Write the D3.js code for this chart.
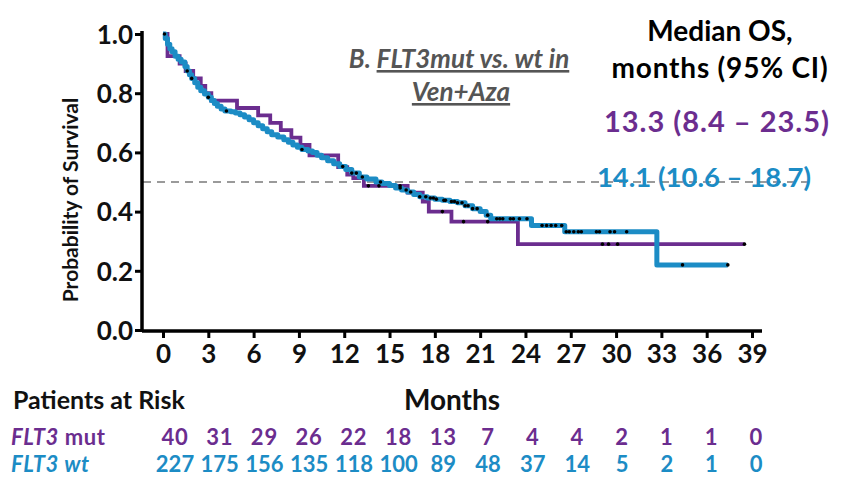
<!DOCTYPE html>
<html><head><meta charset="utf-8">
<script src="https://cdn.jsdelivr.net/npm/d3@7"></script>
<style>
html,body{margin:0;padding:0;background:#fff;}
svg{display:block;font-family:Lato,"Open Sans",sans-serif;}
</style></head>
<body>
<svg id="c" width="853" height="491"></svg>
<script>
// ---- data ----
const xTicks = [0,3,6,9,12,15,18,21,24,27,30,33,36,39];
const yTicks = [0,0.2,0.4,0.6,0.8,1.0];
const riskMonths = [0,3,6,9,12,15,18,21,24,27,30,33,36,39];
const riskMut = [40,31,29,26,22,18,13,7,4,4,2,1,1,0];
const riskWt = [227,175,156,135,118,100,89,48,37,14,5,2,1,0];

// FLT3 mut (purple) KM steps: time (months), survival
const mutTime = [0,0.3,1.1,1.5,2.0,2.5,2.8,3.2,4.9,6.3,7.1,7.8,8.5,9.1,9.7,11.6,12.2,12.6,13.3,16.2,17.2,17.6,19.1,23.5,38.5];
const mutSurv = [1,0.925,0.9,0.875,0.85,0.825,0.8,0.775,0.75,0.725,0.70,0.675,0.65,0.625,0.59,0.55,0.525,0.513,0.487,0.464,0.434,0.40,0.366,0.29,0.29];
const mutCensor = [13.6,14.3,15.7,18.5,19.9,21.5,29.1,29.5,30.1,38.5];

// FLT3 wt (blue) KM steps
const wtTime = [0,0.15,0.3,0.45,0.6,0.8,1.0,1.2,1.45,1.6,1.75,1.9,2.1,2.3,2.5,2.75,3.0,3.2,3.4,3.6,3.85,4.1,4.5,4.8,5.1,5.4,5.7,6.0,6.3,6.6,6.9,7.2,7.6,8.0,8.3,8.6,8.9,9.2,9.6,9.9,10.2,10.5,10.9,11.3,11.7,12.1,12.5,13.0,13.5,14.1,14.5,15.0,15.4,15.8,16.2,16.6,17.0,17.5,18.0,18.5,19.0,19.5,20.0,20.5,21.0,21.4,21.7,24.4,26.6,32.7,37.4];
const wtSurv = [1,0.985,0.965,0.95,0.94,0.925,0.915,0.905,0.89,0.875,0.862,0.85,0.835,0.82,0.808,0.797,0.786,0.775,0.765,0.756,0.747,0.74,0.737,0.733,0.727,0.72,0.71,0.70,0.69,0.68,0.67,0.66,0.652,0.643,0.634,0.625,0.617,0.61,0.605,0.60,0.59,0.582,0.572,0.562,0.552,0.542,0.53,0.517,0.51,0.5,0.495,0.488,0.48,0.473,0.466,0.458,0.45,0.446,0.442,0.438,0.434,0.43,0.42,0.41,0.40,0.388,0.376,0.353,0.332,0.22,0.22];
const wtCensor = [0.1,1.6,1.9,3.0,4.2,9.2,11.9,12.5,12.8,13.2,14.4,15.7,16.1,16.4,17.0,17.4,17.7,17.9,18.1,18.6,18.7,19.1,19.3,19.5,19.8,20.0,20.2,20.5,20.8,21.5,22.1,22.3,22.5,23.0,23.2,23.6,24.1,25.1,25.4,25.7,26.0,26.4,26.7,26.9,27.2,27.5,27.7,28.7,28.9,29.6,29.9,30.7,34.4,37.4];

const purple = "#6b2d8f", blue = "#1c8cc5";

// ---- scales ----
const svg = d3.select("#c");
const x = d3.scaleLinear().domain([0,39]).range([163,752]);
const y = d3.scaleLinear().domain([0,1]).range([330,34]);

// dashed median line
svg.append("line").attr("x1",143).attr("x2",808).attr("y1",y(0.5)).attr("y2",y(0.5))
  .attr("stroke","#9a9a9a").attr("stroke-width",1.8).attr("stroke-dasharray","8,6");

// axes
const yAxis = svg.append("g").attr("transform","translate(142,0)")
  .call(d3.axisLeft(y).tickValues(yTicks).tickFormat(d3.format(".1f")).tickSize(7).tickSizeOuter(0));
const xAxis = svg.append("g").attr("transform","translate(0,331)")
  .call(d3.axisBottom(x).tickValues(xTicks).tickSize(7).tickSizeOuter(0));
[yAxis,xAxis].forEach(g=>{
  g.select(".domain").attr("stroke","#000").attr("stroke-width",3.5);
  g.selectAll(".tick line").attr("stroke","#000").attr("stroke-width",3);
  g.selectAll("text").attr("fill","#111").attr("font-family","Lato, sans-serif")
    .attr("font-weight","bold").attr("font-size",26);
});
yAxis.select(".domain").attr("d","M0,330V31");
xAxis.select(".domain").attr("d","M142,0H762");
yAxis.selectAll(".tick text").attr("x",-9).attr("dy","0.36em");
xAxis.selectAll(".tick text").attr("y",13).attr("dy","0.74em");

// KM curves
function km(times, survs){ return times.map((t,i)=>[t,survs[i]]); }
const line = d3.line().x(d=>x(d[0])).y(d=>y(d[1])).curve(d3.curveStepAfter);
function survAt(times, survs, t){ let s = survs[0]; for(let i=0;i<times.length;i++){ if(times[i]<=t) s=survs[i]; } return s; }

svg.append("path").datum(km(mutTime,mutSurv)).attr("d",line)
  .attr("fill","none").attr("stroke",purple).attr("stroke-width",3.8).attr("stroke-linejoin","miter");
svg.append("path").datum(km(wtTime,wtSurv)).attr("d",line)
  .attr("fill","none").attr("stroke",blue).attr("stroke-width",5).attr("stroke-linejoin","round");

svg.append("g").selectAll("circle").data(wtCensor).join("circle")
  .attr("cx",d=>x(d)).attr("cy",d=>y(survAt(wtTime,wtSurv,d))).attr("r",1.8).attr("fill","#000");
svg.append("g").selectAll("circle").data(mutCensor).join("circle")
  .attr("cx",d=>x(d)).attr("cy",d=>y(survAt(mutTime,mutSurv,d))).attr("r",1.8).attr("fill","#000");

// y axis title
svg.append("text").attr("transform","translate(78,200) rotate(-90)")
  .attr("text-anchor","middle").attr("font-size",21).attr("font-weight","bold").attr("fill","#111")
  .text("Probability of Survival");

// panel title
const t1 = svg.append("text").attr("x",459).attr("y",68).attr("text-anchor","middle")
  .attr("font-size",26).attr("font-weight","bold").attr("font-style","italic").attr("fill","#555");
t1.append("tspan").text("B. ");
t1.append("tspan").attr("text-decoration","underline").text("FLT3mut vs. wt in");
svg.append("text").attr("x",461).attr("y",101).attr("text-anchor","middle")
  .attr("font-size",26).attr("font-weight","bold").attr("font-style","italic").attr("fill","#555")
  .attr("text-decoration","underline").text("Ven+Aza");

// median legend
const leg = [
  {t:"Median OS,", x:720, y:41, c:"#000", s:28, ls:0},
  {t:"months (95% CI)", x:720, y:78, c:"#000", s:28, ls:0.8},
  {t:"13.3 (8.4 \u2013 23.5)", x:717, y:132, c:purple, s:29, ls:1},
  {t:"14.1 (10.6 \u2013 18.7)", x:704, y:187, c:blue, s:27.5, ls:0}
];
svg.append("g").selectAll("text").data(leg).join("text")
  .attr("x",d=>d.x).attr("y",d=>d.y).attr("text-anchor","middle")
  .attr("font-size",d=>d.s).attr("letter-spacing",d=>d.ls)
  .attr("font-weight","bold").attr("fill",d=>d.c).text(d=>d.t);

// x title and risk table
svg.append("text").attr("x",452).attr("y",410).attr("text-anchor","middle")
  .attr("font-size",28).attr("font-weight","bold").attr("fill","#111").text("Months");
svg.append("text").attr("x",13).attr("y",409)
  .attr("font-size",25).attr("font-weight","bold").attr("fill","#111").text("Patients at Risk");

const r1 = svg.append("text").attr("x",11).attr("y",445).attr("font-size",22).attr("font-weight","bold").attr("fill",purple).attr("letter-spacing",0.6);
r1.append("tspan").attr("font-style","italic").text("FLT3");
r1.append("tspan").text(" mut");
const r2 = svg.append("text").attr("x",11).attr("y",472).attr("font-size",22).attr("font-weight","bold").attr("fill",blue).attr("letter-spacing",0.6);
r2.append("tspan").attr("font-style","italic").text("FLT3 wt");

svg.append("g").selectAll("text").data(riskMonths).join("text")
  .attr("x",d=>x(d)+12-d*0.2).attr("y",445).attr("text-anchor","middle")
  .attr("font-size",22).attr("font-weight","bold").attr("fill",purple).attr("letter-spacing",0.8)
  .text((d,i)=>riskMut[i]);
svg.append("g").selectAll("text").data(riskMonths).join("text")
  .attr("x",d=>x(d)+12-d*0.2).attr("y",472).attr("text-anchor","middle")
  .attr("font-size",22).attr("font-weight","bold").attr("fill",blue).attr("letter-spacing",0)
  .text((d,i)=>riskWt[i]);
</script>
</body></html>
